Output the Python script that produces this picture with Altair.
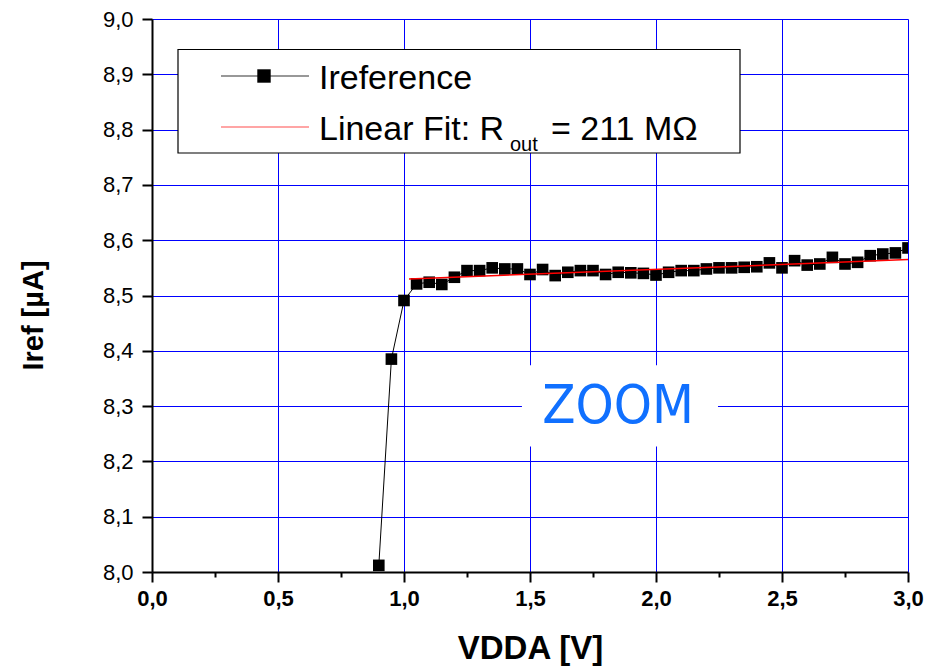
import altair as alt
import pandas as pd

# ---- data ----
vdda = [0.90, 0.95, 1.00, 1.05, 1.10, 1.15, 1.20, 1.25, 1.30, 1.35, 1.40,
        1.45, 1.50, 1.55, 1.60, 1.65, 1.70, 1.75, 1.80, 1.85, 1.90, 1.95,
        2.00, 2.05, 2.10, 2.15, 2.20, 2.25, 2.30, 2.35, 2.40, 2.45, 2.50,
        2.55, 2.60, 2.65, 2.70, 2.75, 2.80, 2.85, 2.90, 2.95, 3.00]
iref = [8.012, 8.385, 8.491, 8.521, 8.524, 8.520, 8.533, 8.545, 8.545, 8.550, 8.548,
        8.548, 8.538, 8.547, 8.536, 8.542, 8.545, 8.545, 8.538, 8.542, 8.541, 8.540,
        8.537, 8.542, 8.545, 8.545, 8.548, 8.550, 8.550, 8.551, 8.552, 8.559, 8.550,
        8.563, 8.555, 8.557, 8.569, 8.557, 8.560, 8.572, 8.575, 8.577, 8.586]
fit_x = [1.02, 3.00]
fit_y = [8.530, 8.565]

x_ticks = [0.0, 0.25, 0.5, 0.75, 1.0, 1.25, 1.5, 1.75, 2.0, 2.25, 2.5, 2.75, 3.0]
y_ticks = [8.0, 8.05, 8.1, 8.15, 8.2, 8.25, 8.3, 8.35, 8.4, 8.45, 8.5,
           8.55, 8.6, 8.65, 8.7, 8.75, 8.8, 8.85, 8.9, 8.95, 9.0]

zoom_box_x = [1.468, 2.246]
zoom_box_y = [8.227, 8.374]

df = pd.DataFrame({"VDDA": vdda, "Iref": iref})
df_fit = pd.DataFrame({"VDDA": fit_x, "Iref": fit_y})
one = pd.DataFrame({"a": [0]})

FONT = "Liberation Sans"
x_minor = "abs(datum.value*2 - round(datum.value*2)) > 0.01"
y_minor = "abs(datum.value*10 - round(datum.value*10)) > 0.01"

x_scale = alt.Scale(domain=[0, 3], nice=False, zero=False)
y_scale = alt.Scale(domain=[8, 9], nice=False, zero=False)

x_axis = alt.Axis(
    values=x_ticks, title="VDDA [V]",
    labelExpr=f"({x_minor}) ? '' : replace(format(datum.value, '.1f'), '.', ',')",
    labelFont=FONT, labelFontSize=22, labelFontWeight="bold", labelColor="black",
    labelPadding=6, labelFlush=False, labelOverlap=False,
    tickSize={"condition": {"test": x_minor, "value": 5}, "value": 10},
    tickWidth=2, tickColor="black",
    domainColor="black", domainWidth=2,
    grid=True, gridColor="#0000ff", gridWidth=1,
    gridOpacity={"condition": {"test": x_minor, "value": 0}, "value": 1},
    titleFont=FONT, titleFontSize=33, titleFontWeight="bold", titleColor="black",
    titleX=378, titleY=86, titleBaseline="alphabetic", titleAnchor="middle",
)
y_axis = alt.Axis(
    values=y_ticks, title="Iref [µA]",
    labelExpr=f"({y_minor}) ? '' : replace(format(datum.value, '.1f'), '.', ',')",
    labelFont=FONT, labelFontSize=22, labelFontWeight="normal", labelColor="black",
    labelPadding=9, labelFlush=False, labelOverlap=False,
    tickSize={"condition": {"test": y_minor, "value": 5}, "value": 10},
    tickWidth=2, tickColor="black",
    domainColor="black", domainWidth=2,
    grid=True, gridColor="#0000ff", gridWidth=1,
    gridOpacity={"condition": {"test": y_minor, "value": 0}, "value": 1},
    titleFont=FONT, titleFontSize=29, titleFontWeight="bold", titleColor="black",
    titleAngle=-90, titleX=-110, titleY=296, titleBaseline="alphabetic",
    titleAlign="center",
)

base = alt.Chart(df)

line = base.mark_line(color="black", strokeWidth=1, clip=True).encode(
    x=alt.X("VDDA:Q", scale=x_scale, axis=x_axis),
    y=alt.Y("Iref:Q", scale=y_scale, axis=y_axis),
)
pts = base.mark_point(shape="square", filled=True, size=135, color="black",
                      opacity=1, clip=True).encode(
    x=alt.X("VDDA:Q", scale=x_scale),
    y=alt.Y("Iref:Q", scale=y_scale),
)
fit = alt.Chart(df_fit).mark_line(color="#ff0000", strokeWidth=1.5, clip=True).encode(
    x=alt.X("VDDA:Q", scale=x_scale),
    y=alt.Y("Iref:Q", scale=y_scale),
)

zoom_bg = alt.Chart(pd.DataFrame({"x0": [zoom_box_x[0]], "x1": [zoom_box_x[1]],
                                  "y0": [zoom_box_y[0]], "y1": [zoom_box_y[1]]})
                    ).mark_rect(color="white").encode(
    x=alt.X("x0:Q", scale=x_scale), x2="x1:Q",
    y=alt.Y("y0:Q", scale=y_scale), y2="y1:Q",
)
zoom_txt = alt.Chart(one).mark_text(
    text="ZOOM", font="DejaVu Sans Condensed", fontSize=54, color="#1070ff",
    align="center", baseline="alphabetic",
).encode(x=alt.value(466), y=alt.value(404))

# legend box (plot-relative pixels)
leg_box = alt.Chart(one).mark_rect(fill="white", stroke="black", strokeWidth=1.2).encode(
    x=alt.value(26), x2=alt.value(588), y=alt.value(30.5), y2=alt.value(134))
leg_l1 = alt.Chart(one).mark_rule(color="#333333", strokeWidth=1.2).encode(
    x=alt.value(69), x2=alt.value(157), y=alt.value(57))
leg_sq = alt.Chart(one).mark_point(shape="square", filled=True, size=180,
                                   color="black", opacity=1).encode(
    x=alt.value(112), y=alt.value(57))
leg_l2 = alt.Chart(one).mark_rule(color="#ff0000", strokeWidth=1.2, opacity=0.7).encode(
    x=alt.value(69), x2=alt.value(157), y=alt.value(108))
t1 = alt.Chart(one).mark_text(text="Ireference", font=FONT, fontSize=34, color="black",
                              align="left", baseline="alphabetic").encode(
    x=alt.value(167), y=alt.value(70))
t2 = alt.Chart(one).mark_text(text="Linear Fit: R", font=FONT, fontSize=34, color="black",
                              align="left", baseline="alphabetic").encode(
    x=alt.value(167), y=alt.value(121))
t3 = alt.Chart(one).mark_text(text="out", font=FONT, fontSize=20, color="black",
                              align="left", baseline="alphabetic").encode(
    x=alt.value(358), y=alt.value(132))
t4 = alt.Chart(one).mark_text(text="= 211 MΩ", font=FONT, fontSize=34, color="black",
                              align="left", baseline="alphabetic").encode(
    x=alt.value(399), y=alt.value(121))

chart = alt.layer(
    line, zoom_bg, zoom_txt, pts, fit,
    leg_box, leg_l1, leg_sq, leg_l2, t1, t2, t3, t4,
).properties(
    width=756, height=553,
    autosize=alt.AutoSizeParams(type="none"),
    padding={"left": 144, "top": 11, "right": 20, "bottom": 96},
).configure_view(
    stroke="black", strokeWidth=2,
).configure(background="white")

chart.save("out.html", embed_options={"renderer": "svg", "actions": False})
